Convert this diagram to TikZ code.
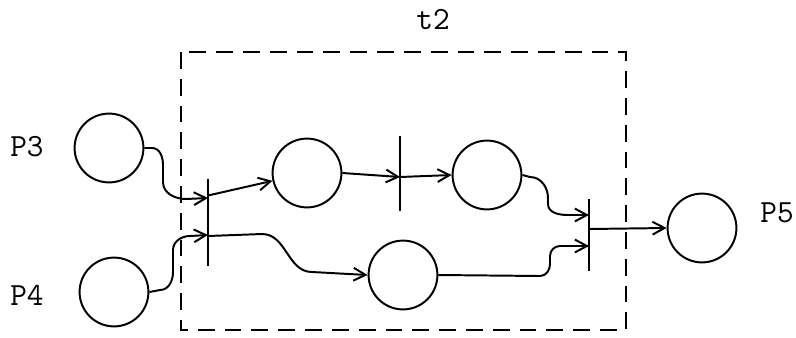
\documentclass[tikz,border=0pt]{standalone}
\usepackage{tikz}
\usetikzlibrary{arrows.meta,calc,positioning}

\begin{document}
\begin{tikzpicture}[x=0.025cm,y=-0.025cm,line width=1.4pt,
  place/.style={draw,circle,minimum size=1.72cm,inner sep=0pt},
  trans/.style={draw,fill,rectangle,minimum width=0.5pt,inner sep=0pt},
  arc/.style={-{Straight Barb[length=0.3cm,width=0.32cm]}},
  lbl/.style={font=\fontsize{23}{26}\selectfont\ttfamily},
  frame/.style={dash pattern=on 0.42cm off 0.25cm,line width=1.7pt}]
\useasboundingbox (0,0) rectangle (796,337);
% subnet boundary
\draw[frame] (181,52) rectangle (626,330);
\node[lbl] (tname) at (433,20) {t2};
% places
\node[place] (p3) at (109,148) {};
\node[place] (p4) at (114,292) {};
\node[place] (pa) at (307,173) {};
\node[place] (pc) at (487,175) {};
\node[place] (pb) at (403,275) {};
\node[place] (p5) at (702,228) {};
\node[lbl] (lp3) at (27,147) {P3};
\node[lbl] (lp4) at (27,295) {P4};
\node[lbl] (lp5) at (777,213) {P5};
% transitions
\node[trans,minimum height=2.125cm] (t1) at (208,222.5) {};
\node[trans,minimum height=1.825cm] (t2) at (400,173.5) {};
\node[trans,minimum height=1.75cm] (t3) at (589,235) {};
\coordinate (t1i1) at ($(t1.center)+(0,-24.5)$);
\coordinate (t1i2) at ($(t1.center)+(0,12.5)$);
\coordinate (t1o1) at ($(t1.center)+(0,-27)$);
\coordinate (t1o2) at ($(t1.center)+(0,13.5)$);
\coordinate (t2m) at ($(t2.center)+(0,3.5)$);
\coordinate (t3i1) at ($(t3.center)+(0,-20)$);
\coordinate (t3i2) at ($(t3.center)+(0,11)$);
\coordinate (t3o) at ($(t3.center)+(0,-6)$);
% arcs
\draw[arc] (p3.east) -- (152,148) to[out=0,in=90] (163,165) -- (163,182)
  to[out=-90,in=180] (186,199) -- (t1i1);
\draw[arc] (p4.east) -- (160,290) to[out=0,in=-90] (173,272) -- (173,250)
  to[out=90,in=180] (190,236) -- (t1i2);
\draw[arc] (t1o1) -- (pa);
\draw[arc] (t1o2) -- (262,234) to[out=0,in=180] (312,272) -- (pb.west);
\draw[arc] (pa.east) -- (t2m);
\draw[arc] (t2m) -- (pc.west);
\draw[arc] (pc.east) -- (530,177) to[out=0,in=90] (548,198) -- (548,204)
  to[out=-90,in=180] (568,215) -- (t3i1);
\draw[arc] (pb.east) -- (540,276) to[out=0,in=-90] (550,264) -- (550,256)
  to[out=90,in=180] (560,246) -- (t3i2);
\draw[arc] (t3o) -- (p5.west);
\end{tikzpicture}
\end{document}
